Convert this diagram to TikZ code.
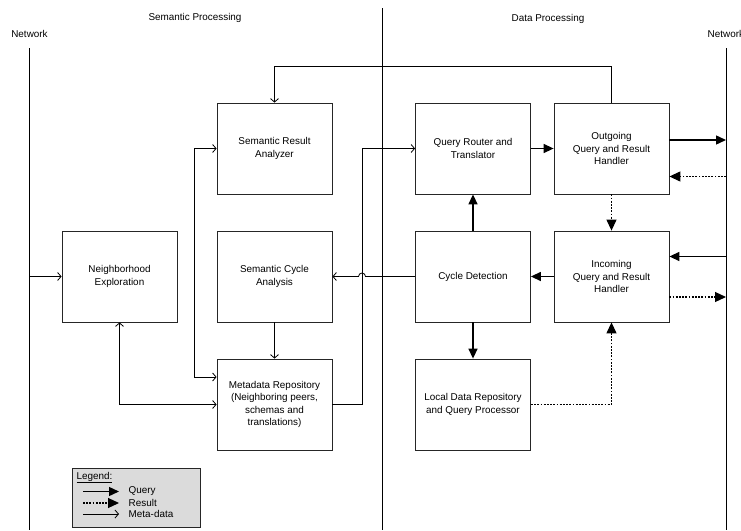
\documentclass[tikz,border=0pt]{standalone}
\usepackage{fontspec}
\setmainfont{Liberation Sans}
\usetikzlibrary{arrows.meta,calc}
\tikzset{
  box/.style={draw=black!85,line width=0.8pt,minimum width=115pt,minimum height=91pt,align=center,inner sep=2pt,
    font=\fontsize{9.9}{12.4}\selectfont},
  lbl/.style={font=\fontsize{9.9}{12.4}\selectfont,inner sep=0pt},
  meta/.style={draw=black,line width=0.8pt,-{Straight Barb[length=3.5pt,width=8pt]}},
  metaboth/.style={draw=black,line width=0.8pt,{Straight Barb[length=3.5pt,width=8pt]}-{Straight Barb[length=3.5pt,width=8pt]}},
  query/.style={draw=black,line width=1.4pt,-{Triangle[length=10pt,width=9pt]}},
  result/.style={draw=black,line width=1.2pt,dash pattern=on 1.8pt off 1.4pt,-{Triangle[length=11pt,width=10pt]}},
  netline/.style={draw=black,line width=0.8pt},
}
\begin{document}
\begin{tikzpicture}[x=1pt,y=-1pt]
\useasboundingbox (0,0) rectangle (741,530);
% section labels and divider lines
\node[lbl] (semp) at (195,17.5) {Semantic Processing};
\node[lbl] (datap) at (548,18.5) {Data Processing};
\node[lbl] (netl) at (29.5,34) {Network};
\node[lbl,anchor=west] (netr) at (707.5,34) {Network};
\coordinate (netlt) at (29,48);
\coordinate (netlb) at (29,530);
\coordinate (netrt) at (726,48);
\coordinate (netrb) at (726,530);
\coordinate (divt) at (382.5,8);
\coordinate (divb) at (382.5,530);
\draw[netline] (netlt) -- (netlb);
\draw[netline] (netrt) -- (netrb);
\draw[netline] (divt) -- (divb);

% boxes
\node[box] (sra) at (274.5,148.5) {Semantic Result\\Analyzer};
\node[box] (qr)  at (473,148.5) {Query Router and\\Translator};
\node[box] (out) at (611.5,148.5) {Outgoing\\Query and Result\\Handler};
\node[box] (nb)  at (119.5,276.5) {Neighborhood\\Exploration};
\node[box] (sca) at (274.5,276.5) {Semantic Cycle\\Analysis};
\node[box] (cd)  at (473,276.5) {Cycle Detection};
\node[box] (in)  at (611.5,276.5) {Incoming\\Query and Result\\Handler};
\node[box] (md)  at (274.5,404.5) {Metadata Repository\\(Neighboring peers,\\schemas and\\translations)};
\node[box] (ld)  at (473,404.5) {Local Data Repository\\and Query Processor};

% meta-data connectors
\draw[meta] (out.north) -- ++(0,-36.5) -| (sra.north);
\coordinate (netin) at (29,276.5);
\draw[meta] (netin) -- (nb.west);
\draw[metaboth] (nb.south) |- (md.west);
\draw[metaboth] ([yshift=27.5pt]md.west) -- ++(-22,0) |- (sra.west);
\draw[meta] (md.east) -- ++(30,0) |- (qr.west);
\draw[meta] (cd.west) -- (365.5,276.5) arc[start angle=0,end angle=180,radius=3.5pt] -- (sca.east);
\draw[meta] (sca.south) -- (md.north);

% query connectors
\draw[query] (qr.east) -- (out.west);
\draw[query] (cd.north) -- (qr.south);
\draw[query] (in.west) -- (cd.east);
\draw[query] (cd.south) -- (ld.north);
\coordinate (nout) at (726,140);
\coordinate (nres) at (726,176.5);
\coordinate (nin) at (726,256.5);
\coordinate (nres2) at (726,297);
\draw[query] ([yshift=8.5pt]out.east) -- (nout);
\draw[query] (nin) -- ([yshift=20pt]in.east);

% result connectors
\draw[result] (nres) -- ([yshift=-28pt]out.east);
\draw[result] (out.south) -- (in.north);
\draw[result] ([yshift=-20.5pt]in.east) -- (nres2);
\draw[result] (ld.east) -| (in.south);

% legend
\node[draw=black!85,fill=black!14,line width=0.8pt,minimum width=127.5pt,minimum height=59pt,inner sep=0pt] (leg) at (136.25,497.5) {};
\node[lbl,anchor=west] (legt) at (76.5,477.5) {\underline{Legend:}};
\coordinate (lq1) at (83,491.5);
\coordinate (lq2) at (119,491.5);
\coordinate (lr1) at (83,503);
\coordinate (lr2) at (119,503);
\coordinate (lm1) at (83,514);
\coordinate (lm2) at (119,514);
\draw[query] (lq1) -- (lq2);
\draw[result] (lr1) -- (lr2);
\draw[meta] (lm1) -- (lm2);
\node[lbl,anchor=west] (lqt) at (128.5,491.5) {Query};
\node[lbl,anchor=west] (lrt) at (128.5,503) {Result};
\node[lbl,anchor=west] (lmt) at (128.5,514) {Meta-data};
\end{tikzpicture}
\end{document}
